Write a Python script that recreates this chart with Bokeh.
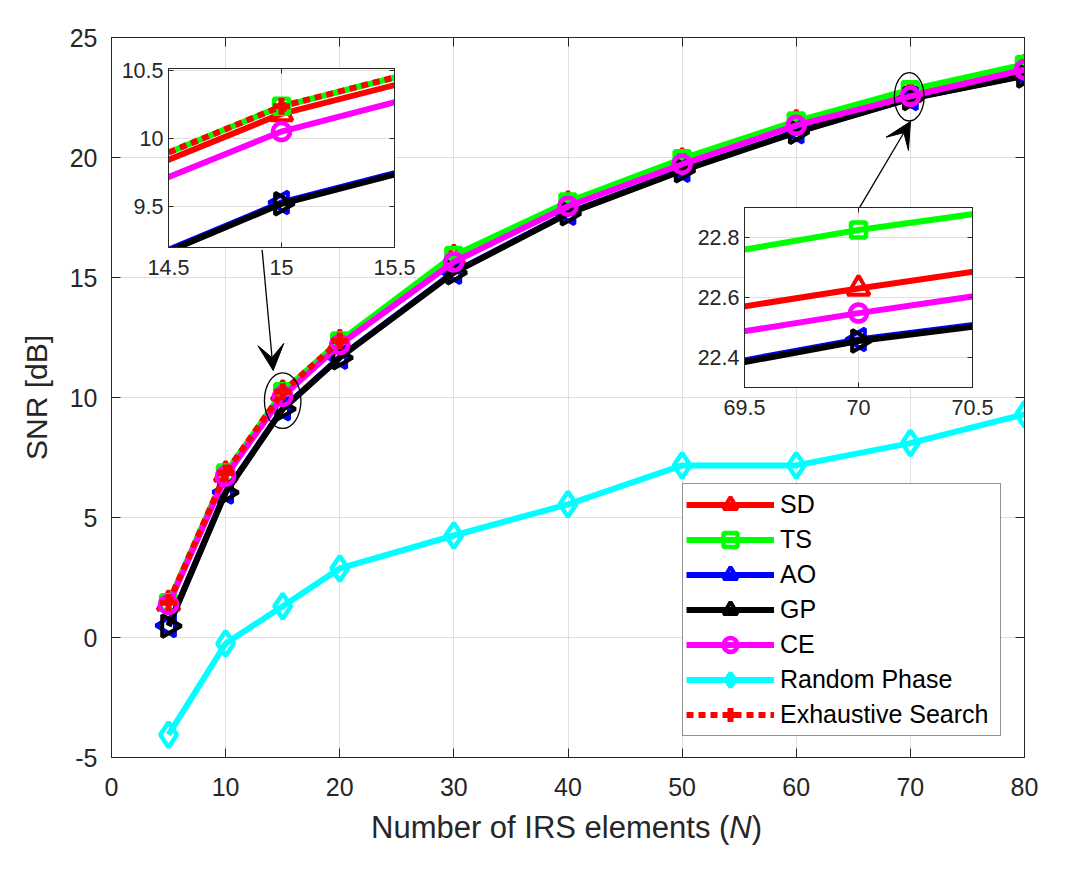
from math import pi
from bokeh.plotting import figure
from bokeh.models import (FixedTicker, LinearAxis, Range1d, Legend, LegendItem,
                          Arrow, VeeHead, GridBox, Div)
from bokeh.embed import file_html
from bokeh.resources import INLINE

FONT = "Liberation Sans"
AX = "#262626"
GRID = "#dfdfdf"

# ---------------- data ----------------
N = [5, 10, 15, 20, 30, 40, 50, 60, 70, 80]
snr_sd = [1.42, 6.80, 10.18, 12.28, 15.82, 18.05, 19.85, 21.44, 22.63, 23.74]
snr_ts = [1.45, 6.85, 10.235, 12.35, 15.92, 18.15, 19.95, 21.52, 22.825, 23.88]
snr_ao = [0.50, 6.06, 9.53, 11.68, 15.22, 17.68, 19.47, 21.07, 22.46, 23.42]
snr_gp = [0.48, 6.04, 9.52, 11.66, 15.20, 17.66, 19.45, 21.05, 22.455, 23.40]
snr_ce = [1.38, 6.72, 10.05, 12.20, 15.65, 17.97, 19.72, 21.34, 22.548, 23.66]
snr_rp = [-4.05, -0.25, 1.30, 2.88, 4.25, 5.55, 7.17, 7.17, 8.10, 9.30]
N_es = [5, 10, 15, 20]
snr_es = [1.45, 6.85, 10.235, 12.35]

x_ticks = [0, 10, 20, 30, 40, 50, 60, 70, 80]
x_labels = ["0", "10", "20", "30", "40", "50", "60", "70", "80"]
y_ticks = [-5, 0, 5, 10, 15, 20, 25]
y_labels = ["-5", "0", "5", "10", "15", "20", "25"]

in1_xticks = [14.5, 15, 15.5]
in1_xlabels = ["14.5", "15", "15.5"]
in1_yticks = [9.5, 10, 10.5]
in1_ylabels = ["9.5", "10", "10.5"]
in2_xticks = [69.5, 70, 70.5]
in2_xlabels = ["69.5", "70", "70.5"]
in2_yticks = [22.4, 22.6, 22.8]
in2_ylabels = ["22.4", "22.6", "22.8"]

series = [
    dict(label="SD", x=N, y=snr_sd, color="#ff0000", marker="triangle", size=22, angle=0.0, dash="solid", mlw=4),
    dict(label="TS", x=N, y=snr_ts, color="#00ff00", marker="square", size=15, angle=0.0, dash="solid", mlw=4.5),
    dict(label="AO", x=N, y=snr_ao, color="#0000ff", marker="triangle", size=22, angle=pi / 2, dash="solid", mlw=4),
    dict(label="GP", x=N, y=snr_gp, color="#000000", marker="triangle", size=22, angle=-pi / 2, dash="solid", mlw=4),
    dict(label="CE", x=N, y=snr_ce, color="#ff00ff", marker="circle", size=17, angle=0.0, dash="solid", mlw=4.5),
    dict(label="Random Phase", x=N, y=snr_rp, color="#00ffff", marker="diamond", size=25, angle=0.0, dash="solid", mlw=4.5),
    dict(label="Exhaustive Search", x=N_es, y=snr_es, color="#ff0000", marker="cross", size=17, angle=0.0, dash="7 5", mlw=6),
]


def draw(fig, lw):
    items = []
    for s in series:
        ln = fig.line(s["x"], s["y"], line_color=s["color"], line_width=lw,
                      line_dash=s["dash"], line_join="round")
        mk = fig.scatter(s["x"], s["y"], marker=s["marker"], size=s["size"], angle=s["angle"],
                         line_color=s["color"], fill_color=None, line_width=s["mlw"])
        items.append(LegendItem(label=s["label"], renderers=[ln, mk]))
    return items


def style_axis(ax, ticks, labels, size, standoff, tick_in):
    ax.ticker = FixedTicker(ticks=ticks)
    ax.major_label_overrides = dict(zip(ticks, labels))
    ax.major_label_text_font = FONT
    ax.major_label_text_font_size = size
    ax.major_label_text_color = AX
    ax.major_label_standoff = standoff
    ax.major_tick_in = tick_in
    ax.major_tick_out = 0
    ax.major_tick_line_color = AX
    ax.minor_tick_line_color = None
    ax.axis_line_color = AX


def box_axes(fig, xt, yt, tick_in):
    for place, ticks in (("above", xt), ("right", yt)):
        ax = LinearAxis(ticker=FixedTicker(ticks=ticks),
                        major_label_overrides={t: "" for t in ticks},
                        major_label_text_font_size="1px", major_label_standoff=0,
                        major_tick_in=tick_in, major_tick_out=0,
                        major_tick_line_color=AX, minor_tick_line_color=None,
                        axis_line_color=AX)
        fig.add_layout(ax, place)


def grids(fig, xt, yt):
    fig.xgrid.ticker = FixedTicker(ticks=xt)
    fig.ygrid.ticker = FixedTicker(ticks=yt)
    for g in (fig.xgrid, fig.ygrid):
        g.grid_line_color = GRID
        g.grid_line_width = 1


# ---------------- main figure ----------------
W, H = 1075, 860
p = figure(width=W, height=H, x_range=Range1d(0, 80), y_range=Range1d(-5, 25),
           output_backend="svg", toolbar_location=None,
           min_border_left=111, min_border_right=51, min_border_top=37, min_border_bottom=103,
           background_fill_color="white", border_fill_color="white",
           outline_line_color=AX, outline_line_width=1)
grids(p, x_ticks, y_ticks)
style_axis(p.xaxis[0], x_ticks, x_labels, "25px", 20, 9)
style_axis(p.yaxis[0], y_ticks, y_labels, "25px", 14, 9)
p.yaxis[0].axis_label = "SNR [dB]"
p.yaxis[0].axis_label_text_font = FONT
p.yaxis[0].axis_label_text_font_size = "30px"
p.yaxis[0].axis_label_text_font_style = "normal"
p.yaxis[0].axis_label_text_color = AX
p.yaxis[0].axis_label_standoff = 14
box_axes(p, x_ticks, y_ticks, 9)

items = draw(p, 6)

legend = Legend(items=items, location=(571, 21), orientation="vertical",
                label_text_font=FONT, label_text_font_size="25px", label_text_color="black",
                glyph_width=88, glyph_height=35, spacing=0, padding=3,
                label_standoff=6, label_width=217,
                border_line_color=AX, border_line_width=1,
                background_fill_color="white", background_fill_alpha=1)
p.add_layout(legend)

# zoom marks (ellipses) and arrows
ellipse_specs = [(N[2], 9.87, 3.2, 2.32), (69.9, 22.53, 2.6, 2.02)]
p.ellipse(x=[e[0] for e in ellipse_specs], y=[e[1] for e in ellipse_specs],
          width=[e[2] for e in ellipse_specs], height=[e[3] for e in ellipse_specs],
          fill_color=None, line_color="black", line_width=1.3)

arrow_specs = [(13.2, 16.15, 14.17, 11.125), (65.48, 17.86, 70.01, 21.5)]
for xs, ys, xe, ye in arrow_specs:
    p.add_layout(Arrow(end=VeeHead(size=26, fill_color="black", line_color="black", line_width=1),
                       x_start=xs, y_start=ys, x_end=xe, y_end=ye,
                       line_color="black", line_width=1.3))


# ---------------- insets ----------------
def inset(w, h, xr, yr, xt, xl, yt, yl, bl, br, bt, bb):
    f = figure(width=w, height=h, x_range=Range1d(*xr), y_range=Range1d(*yr),
               output_backend="svg", toolbar_location=None,
               min_border_left=bl, min_border_right=br, min_border_top=bt, min_border_bottom=bb,
               background_fill_color="white", border_fill_color=None,
               outline_line_color=AX, outline_line_width=1)
    grids(f, xt, yt)
    style_axis(f.xaxis[0], xt, xl, "21.5px", 12, 5)
    style_axis(f.yaxis[0], yt, yl, "21.5px", 5, 5)
    box_axes(f, xt, yt, 5)
    draw(f, 6)
    return f


ins1 = inset(305, 233, (14.5, 15.5), (9.2, 10.512), in1_xticks, in1_xlabels, in1_yticks, in1_ylabels,
             48, 29, 14, 40)
ins2 = inset(308, 234, (69.5, 70.5), (22.3, 22.9), in2_xticks, in2_xlabels, in2_yticks, in2_ylabels,
             50, 30, 14, 40)

# x-axis title with italic N
xlabel = Div(text=('<span style="font-family:\'Liberation Sans\';font-size:31px;color:#262626;'
                   'white-space:nowrap;line-height:38px">Number of IRS elements (<i>N</i>)</span>'),
             width=400, height=38, margin=0)

layout = GridBox(children=[(p, 0, 0, 7, 7), (ins1, 1, 1, 2, 2), (ins2, 2, 4, 2, 2), (xlabel, 5, 2, 1, 3)],
                 rows=["54px", "139px", "94px", "140px", "382px", "38px", "13px"],
                 cols=["118px", "253px", "52px", "271px", "77px", "231px", "73px"])

open("out.html", "w").write(file_html(layout, INLINE))
